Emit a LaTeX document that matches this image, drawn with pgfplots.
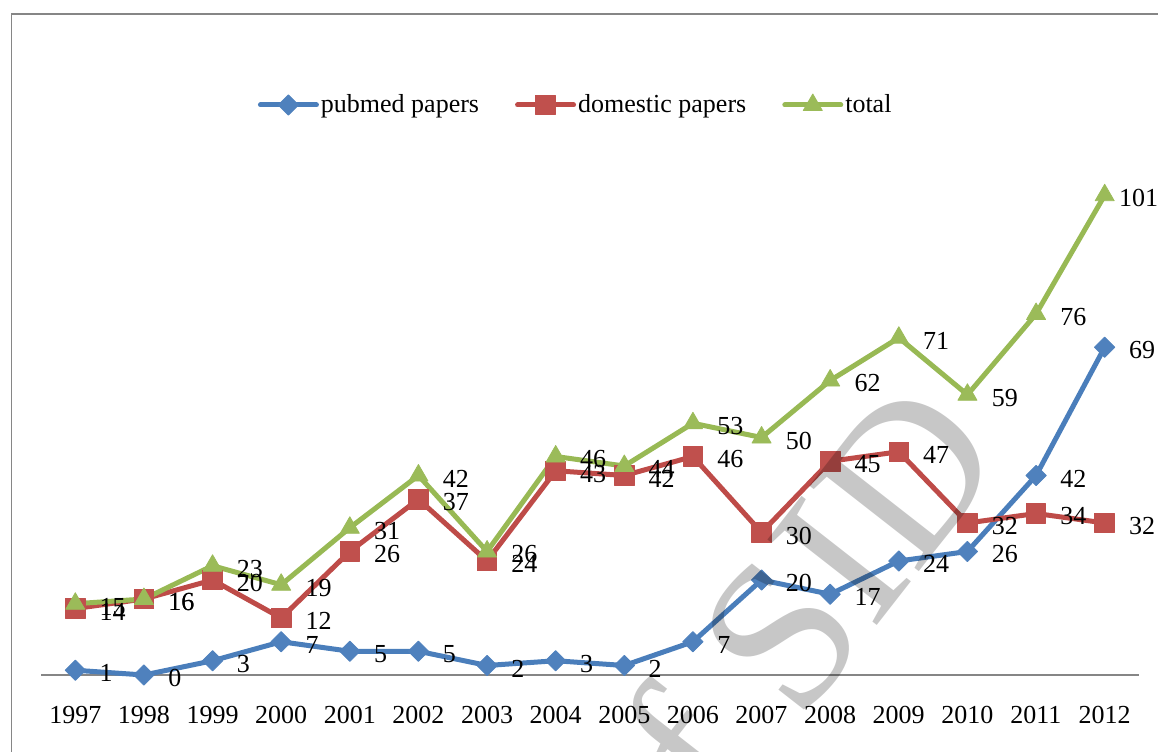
\documentclass[border=0pt]{standalone}
\usepackage{fontspec}
\setmainfont{Liberation Serif}
\usepackage{pgfplots}
\pgfplotsset{compat=1.18}
\definecolor{cblue}{RGB}{74,126,187}
\definecolor{cbluef}{RGB}{79,129,189}
\definecolor{cred}{RGB}{190,75,72}
\definecolor{credf}{RGB}{192,80,77}
\definecolor{cgreen}{RGB}{152,185,84}
\definecolor{cgreenf}{RGB}{155,187,89}
\definecolor{framegray}{RGB}{134,134,134}
\begin{document}
\begin{tikzpicture}
\path[use as bounding box] (0,0) rectangle (579pt,375.5pt);
\draw[framegray, line width=0.6pt] (5.7pt,-1pt) -- (5.7pt,368.5pt) -- (580pt,368.5pt);
\begin{axis}[
  at={(20.5pt,38pt)}, anchor=south west,
  scale only axis, width=549pt, height=285pt,
  xmin=1996.5, xmax=2012.5, ymin=0, ymax=120,
  axis x line=bottom, axis y line=none,
  xtick={1997,...,2012}, ytick=\empty, major tick length=0pt,
  x axis line style={framegray, line width=0.75pt, -},
  xticklabel style={anchor=base, yshift=-24pt, font=\fontsize{13pt}{15pt}\selectfont},
  /pgf/number format/1000 sep={},
  /pgf/number format/assume math mode=true,
  clip=false,
  every axis plot/.append style={line width=2.5pt, line join=round, line cap=round},
  nodes near coords,
  every node near coord/.append style={anchor=west, xshift=12pt, yshift=-1.5pt, inner sep=0pt, text=black, font=\fontsize{13pt}{15pt}\selectfont},
  legend style={at={(0.487,1.0)}, anchor=center, draw=none, fill=none, legend columns=3,
    /tikz/every even column/.append style={column sep=17pt},
    nodes={inner sep=1pt}, font=\fontsize{13pt}{15pt}\selectfont},
  legend cell align=left,
  legend image code/.code={
    \draw[mark repeat=2, mark phase=2, #1] plot coordinates {(0pt,0pt) (14pt,0pt) (28pt,0pt)};
  },
]
\addplot[cblue, mark=square*, mark size=3.6pt, mark options={rotate=45, fill=cbluef, draw=cbluef, line width=0.4pt}] coordinates {
(1997,1) (1998,0) (1999,3) (2000,7) (2001,5) (2002,5) (2003,2) (2004,3)
(2005,2) (2006,7) (2007,20) (2008,17) (2009,24) (2010,26) (2011,42) (2012,69)};
\addlegendentry{pubmed papers}
\addplot[cred, mark=square*, mark size=4.9pt, mark options={fill=credf, draw=credf, line width=0.4pt}] coordinates {
(1997,14) (1998,16) (1999,20) (2000,12) (2001,26) (2002,37) (2003,24) (2004,43)
(2005,42) (2006,46) (2007,30) (2008,45) (2009,47) (2010,32) (2011,34) (2012,32)};
\addlegendentry{domestic papers}
\addplot[cgreen, mark=triangle*, mark size=5.5pt, mark options={fill=cgreenf, draw=cgreenf, line width=0.4pt},
  point meta=explicit symbolic] coordinates {
(1997,15) [15] (1998,16) [16] (1999,23) [23] (2000,19) [19] (2001,31) [31] (2002,42) [42]
(2003,26) [26] (2004,46) [46] (2005,44) [44] (2006,53) [53] (2007,50) [50] (2008,62) [62]
(2009,71) [71] (2010,59) [59] (2011,76) [76] (2012,101) [\kern-5pt 101]};
\addlegendentry{total}
\end{axis}
\node[rotate=52, anchor=base west, text=black, text opacity=0.22, font=\fontsize{106pt}{110pt}\selectfont, inner sep=0pt] at (329pt,-77.5pt) {of SID};
\end{tikzpicture}
\end{document}
